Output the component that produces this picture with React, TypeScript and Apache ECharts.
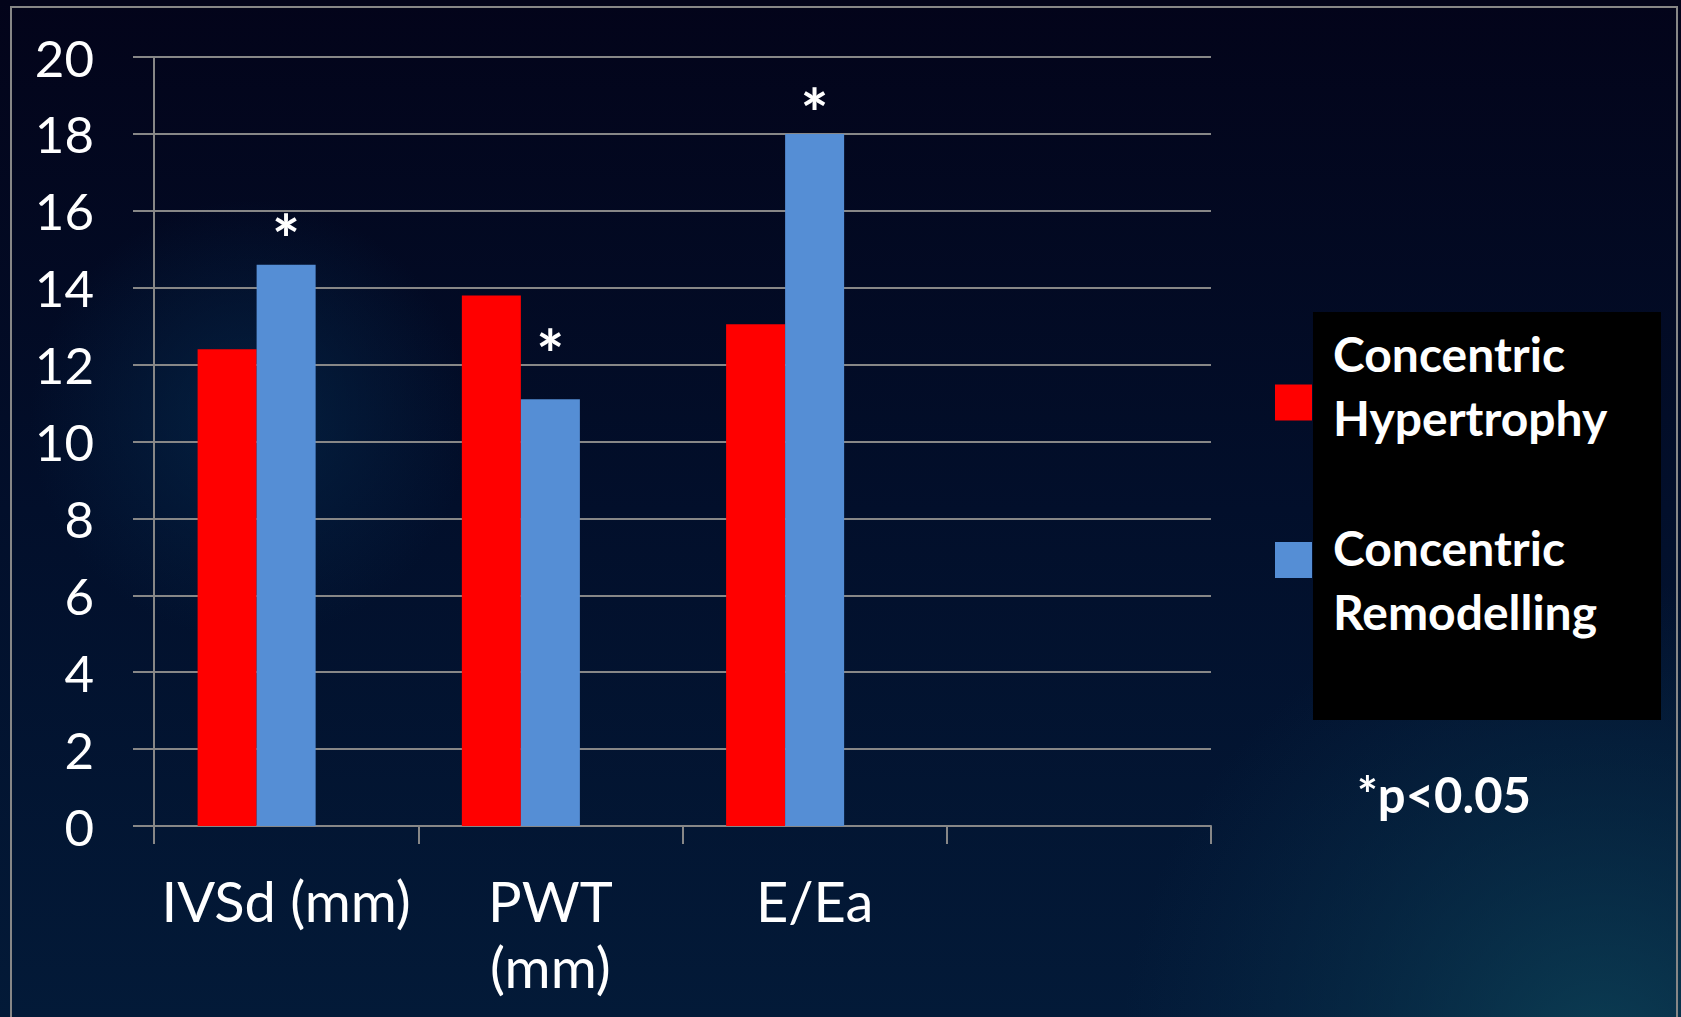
import React, { useEffect, useRef } from "react";
import * as echarts from "echarts";

const categories = ["IVSd (mm)", "PWT\n(mm)", "E/Ea", ""];
const hypertrophy = [12.4, 13.8, 13.05, null];
const remodelling = [14.6, 11.1, 18.0, null];
const emptySeries = [null, null, null, null];
const significance = ["*", "*", "*", ""];
const seriesNames = ["Concentric Hypertrophy", "Concentric Remodelling", ""];
const yTicks = { min: 0, max: 20, interval: 2 };
const footnote = "*p<0.05";

const starDistance = [11, 31, 6, 0];

export default function App() {
  const ref = useRef<HTMLDivElement>(null);

  useEffect(() => {
    if (!ref.current) return;
    const chart = echarts.init(ref.current, null, { renderer: "svg" });
    const grey = "#878787";
    const font = "Lato";

    const remodellingData = remodelling.map((v, i) =>
      v == null
        ? "-"
        : {
            value: v,
            label: {
              show: significance[i] !== "",
              formatter: significance[i],
              position: "top",
              distance: starDistance[i],
              color: "#ffffff",
              fontSize: 66,
              lineHeight: 30,
              fontWeight: "bold",
              fontFamily: font,
            },
          }
    );

    const legendText = (spacer: number) => ({
      color: "#ffffff",
      fontSize: 48,
      fontWeight: "bold",
      fontFamily: font,
      padding: [0, 0, 0, 16],
      rich: {
        t: { color: "#ffffff", fontSize: 48, fontWeight: "bold", fontFamily: font, lineHeight: 64 },
        s: { fontSize: 2, lineHeight: spacer },
      },
    });

    chart.setOption({
      animation: false,
      backgroundColor: {
        type: "linear",
        x: 0,
        y: 0,
        x2: 0,
        y2: 1,
        colorStops: [
          { offset: 0, color: "#03041a" },
          { offset: 0.5, color: "#020f2b" },
          { offset: 1, color: "#031a38" },
        ],
      },
      graphic: [
        {
          type: "circle",
          z: -10,
          silent: true,
          shape: { cx: 1600, cy: 1060, r: 480 },
          style: {
            fill: {
              type: "radial",
              x: 0.5,
              y: 0.5,
              r: 0.5,
              colorStops: [
                { offset: 0, color: "rgba(14,70,90,0.8)" },
                { offset: 0.6, color: "rgba(10,55,80,0.35)" },
                { offset: 1, color: "rgba(10,50,80,0)" },
              ],
            },
          },
        },
        {
          type: "circle",
          z: -10,
          silent: true,
          shape: { cx: 250, cy: 420, r: 220 },
          style: {
            fill: {
              type: "radial",
              x: 0.5,
              y: 0.5,
              r: 0.5,
              colorStops: [
                { offset: 0, color: "rgba(5,40,75,0.7)" },
                { offset: 1, color: "rgba(5,40,75,0)" },
              ],
            },
          },
        },
        {
          type: "rect",
          z: 1,
          silent: true,
          shape: { x: 11, y: 7, width: 1666, height: 1030 },
          style: { fill: "none", stroke: grey, lineWidth: 2 },
        },
        {
          type: "rect",
          z: 1,
          silent: true,
          shape: { x: 1313, y: 312, width: 348, height: 408 },
          style: { fill: "#000000" },
        },
        {
          type: "text",
          z: 5,
          x: 1357,
          y: 794,
          style: {
            text: footnote,
            fill: "#ffffff",
            font: `bold 49px ${font}`,
            verticalAlign: "middle",
            align: "left",
          },
        },
      ],
      legend: [
        {
          data: [seriesNames[0]],
          orient: "vertical",
          left: 1275,
          top: 329,
          padding: 0,
          icon: "rect",
          itemWidth: 37,
          itemHeight: 36,
          selectedMode: false,
          formatter: (n: string) => {
            const [a, b] = n.split(" ");
            return `{t|${a}}\n{t|${b}}\n{s| }`;
          },
          textStyle: legendText(35),
        },
        {
          data: [seriesNames[1]],
          orient: "vertical",
          left: 1275,
          top: 495,
          padding: 0,
          icon: "rect",
          itemWidth: 37,
          itemHeight: 36,
          selectedMode: false,
          formatter: (n: string) => {
            const [a, b] = n.split(" ");
            return `{s| }\n{t|${a}}\n{t|${b}}`;
          },
          textStyle: legendText(39),
        },
      ],
      grid: { left: 154, top: 57, width: 1057, height: 769, containLabel: false },
      xAxis: {
        type: "category",
        data: categories,
        boundaryGap: true,
        axisLine: { show: true, lineStyle: { color: grey, width: 2 } },
        axisTick: { show: true, length: 18, alignWithLabel: false, lineStyle: { color: grey, width: 2 } },
        axisLabel: {
          interval: 0,
          color: "#ffffff",
          fontSize: 56,
          lineHeight: 66,
          fontFamily: font,
          margin: 41,
        },
        splitLine: { show: false },
      },
      yAxis: {
        type: "value",
        min: yTicks.min,
        max: yTicks.max,
        interval: yTicks.interval,
        axisLine: { show: true, lineStyle: { color: grey, width: 2 } },
        axisTick: { show: true, length: 21, lineStyle: { color: grey, width: 2 } },
        axisLabel: { color: "#ffffff", fontSize: 51, fontFamily: font, margin: 60 },
        splitLine: { show: true, lineStyle: { color: grey, width: 2 } },
      },
      series: [
        {
          name: seriesNames[0],
          type: "bar",
          data: hypertrophy.map((v) => (v == null ? "-" : v)),
          itemStyle: { color: "#ff0000" },
          barGap: "0%",
          barCategoryGap: "33%",
        },
        {
          name: seriesNames[1],
          type: "bar",
          data: remodellingData,
          itemStyle: { color: "#558ed5" },
          barGap: "0%",
          barCategoryGap: "33%",
        },
        {
          name: seriesNames[2],
          type: "bar",
          data: emptySeries.map((v) => (v == null ? "-" : v)),
          itemStyle: { color: "#9bbb59" },
          barGap: "0%",
          barCategoryGap: "33%",
        },
      ],
    });

    return () => chart.dispose();
  }, []);

  return (
    <div
      ref={ref}
      style={{ position: "fixed", left: 0, top: 0, width: 1681, height: 1017 }}
    />
  );
}
